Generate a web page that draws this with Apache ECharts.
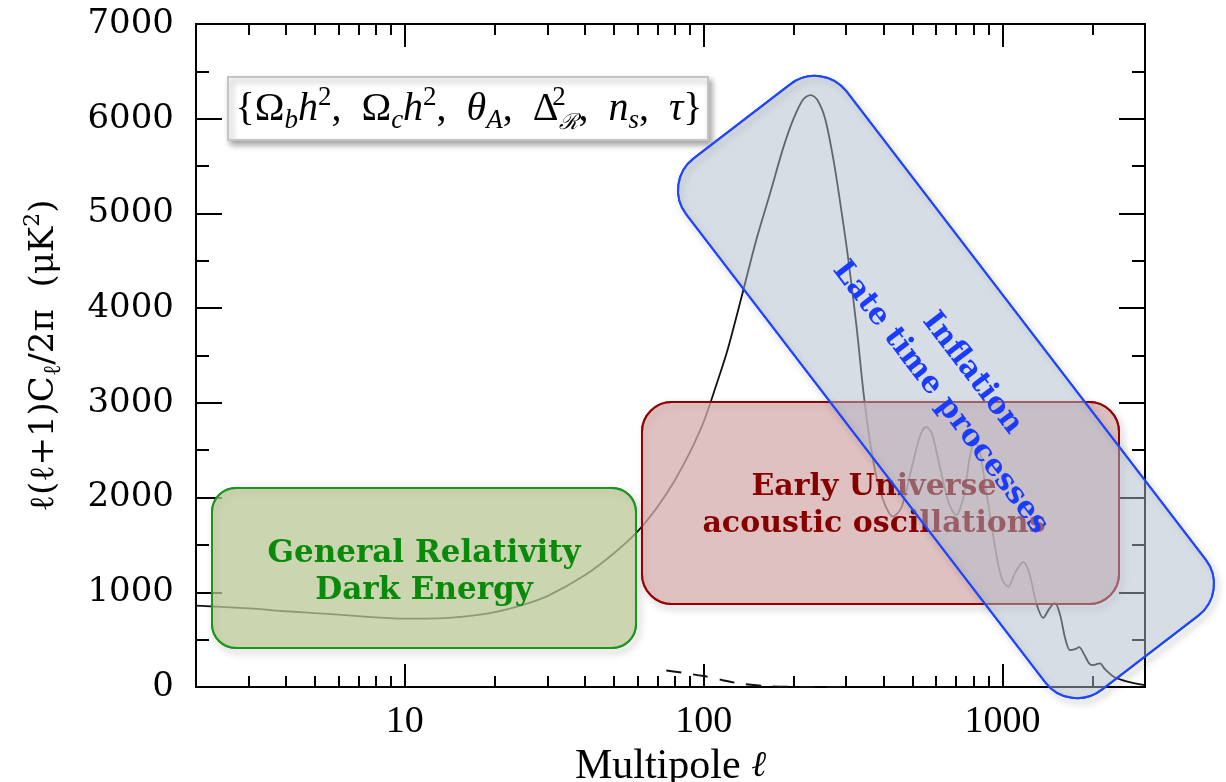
<!DOCTYPE html>
<html>
<head>
<meta charset="utf-8">
<script src="https://cdn.jsdelivr.net/npm/echarts@6.0.0/dist/echarts.min.js"></script>
<style>
  html, body { margin: 0; padding: 0; background: #fff; }
  #main { width: 1226px; height: 782px; }
</style>
</head>
<body>
<div id="main"></div>
<script>
// TT power spectrum: multipole l and l(l+1)C_l/2pi in uK^2
var ttEll = [2, 3, 4, 5, 6, 8, 10, 13, 16, 20, 25, 30, 40, 50, 60, 70, 80, 90, 100, 110, 120, 135, 150, 167, 185, 200, 215, 228, 240, 255, 272, 290, 305, 325, 343, 360, 380, 405, 430, 460, 500, 530, 555, 580, 620, 660, 700, 740, 780, 810, 840, 900, 960, 1000, 1047, 1100, 1175, 1230, 1300, 1370, 1430, 1497, 1560, 1620, 1682, 1750, 1805, 1880, 1950, 2010, 2060, 2123, 2200, 2366, 2600, 3000];
var ttVal = [860, 830, 800, 780, 765, 735, 722, 725, 745, 790, 870, 960, 1180, 1410, 1640, 1900, 2180, 2480, 2800, 3180, 3550, 4160, 4720, 5216, 5700, 6000, 6200, 6250, 6200, 6000, 5565, 5000, 4510, 3800, 3100, 2600, 2200, 1920, 1800, 1900, 2350, 2650, 2745, 2680, 2300, 1950, 1816, 2000, 2450, 2600, 2480, 1900, 1350, 1130, 1056, 1200, 1320, 1200, 880, 730, 820, 890, 760, 520, 390, 400, 420, 340, 250, 230, 240, 250, 190, 105, 60, 20];

// dashed low curve
var lowEll = [75, 85, 100, 115, 130, 160, 200, 250, 300];
var lowVal = [175, 150, 115, 75, 40, 10, 2, 0, 0];

// axis ticks and labels
var xLabels = [10, 100, 1000];
var xMinor = [3, 4, 5, 6, 7, 8, 9, 20, 30, 40, 50, 60, 70, 80, 90, 200, 300, 400, 500, 600, 700, 800, 900, 2000, 3000];

var chart = echarts.init(document.getElementById('main'));

function pairs(xs, ys) {
  return xs.map(function (x, i) { return [x, ys[i]]; });
}

var black = '#000';
var serifNum = 'DejaVu Serif';

function plain(v) { return String(v); }

function xAxisOf(pos, major, withLabels) {
  return {
    type: 'log',
    logBase: 10,
    min: 2,
    max: 3000,
    position: pos,
    axisLine: { show: true, onZero: false, lineStyle: { color: black, width: 2 } },
    axisTick: {
      inside: true,
      length: major ? 23 : 11,
      customValues: major ? xLabels : xMinor,
      lineStyle: { color: black, width: 2 }
    },
    axisLabel: withLabels ? {
      customValues: xLabels,
      formatter: plain,
      fontFamily: 'Liberation Serif',
      fontSize: 38,
      color: black,
      margin: 16
    } : { show: false },
    splitLine: { show: false }
  };
}

function yAxisOf(pos, withLabels) {
  return {
    type: 'value',
    min: 0,
    max: 7000,
    interval: 1000,
    position: pos,
    axisLine: { show: true, onZero: false, lineStyle: { color: black, width: 2 } },
    axisTick: { inside: true, length: 26, lineStyle: { color: black, width: 2 } },
    minorTick: { show: true, splitNumber: 2, length: 13, lineStyle: { color: black, width: 2 } },
    axisLabel: withLabels ? {
      formatter: plain,
      fontFamily: serifNum,
      fontSize: 34,
      color: black,
      margin: 22
    } : { show: false },
    splitLine: { show: false }
  };
}

var bottomAxis = xAxisOf('bottom', true, true);
bottomAxis.name = '{a|Multipole }{b|ℓ}';
bottomAxis.nameLocation = 'middle';
bottomAxis.nameGap = 49;
bottomAxis.nameTextStyle = {
  rich: {
    a: { fontFamily: 'Liberation Serif', fontSize: 42, color: black, lineHeight: 44 },
    b: { fontFamily: 'DejaVu Serif', fontStyle: 'italic', fontSize: 36, color: black, lineHeight: 44 }
  }
};

var leftAxis = yAxisOf('left', true);
leftAxis.name = '{a|ℓ(ℓ+1)C}{s|ℓ}{a|/2π  (μK}{p|2}{a|)}';
leftAxis.nameLocation = 'middle';
leftAxis.nameGap = 130;
leftAxis.nameTextStyle = {
  rich: {
    a: { fontFamily: serifNum, fontSize: 34, color: black, lineHeight: 44 },
    s: { fontFamily: serifNum, fontSize: 24, color: black, lineHeight: 30, verticalAlign: 'bottom' },
    p: { fontFamily: serifNum, fontSize: 22, color: black, lineHeight: 32, verticalAlign: 'top' }
  }
};

// formula box text, LaTeX-like
var mathFont = 'Liberation Serif';
var formula = '{m|{Ω}{si|b}{mi|h}{sp|2}{m|,  Ω}{si|c}{mi|h}{sp|2}{m|,  }{mi|θ}{si|A}{m|,  Δ}{sp0|2}{sr|ℛ}{m|,  }{mi|n}{si|s}{m|,  }{mi|τ}}';

// translucent rounded box: shadow drawn by an unfilled outline below the fill
function box(x, y, w, h, r, fill, stroke, z) {
  return [
    {
      type: 'rect', z: z,
      shape: { x: x, y: y, width: w, height: h, r: r },
      style: {
        fill: null, stroke: stroke, lineWidth: 2,
        shadowBlur: 7, shadowOffsetX: 3, shadowOffsetY: 4, shadowColor: 'rgba(0,0,0,0.35)'
      }
    },
    {
      type: 'rect', z: z,
      shape: { x: x, y: y, width: w, height: h, r: r },
      style: { fill: fill, stroke: stroke, lineWidth: 2 }
    }
  ];
}

var blueBox = box(-335, -101, 670, 202, 40, 'rgba(173,187,203,0.5)', '#1f45ff', 26);

var option = {
  animation: false,
  backgroundColor: '#fff',
  grid: { left: 196, right: 81, top: 24, bottom: 95, outerBoundsMode: 'none', containLabel: false },
  xAxis: [
    bottomAxis,
    xAxisOf('bottom', false, false),
    xAxisOf('top', true, false),
    xAxisOf('top', false, false)
  ],
  yAxis: [leftAxis, yAxisOf('right', false)],
  series: [
    {
      name: 'TT',
      type: 'line',
      data: pairs(ttEll, ttVal),
      showSymbol: false,
      smooth: 0.3,
      lineStyle: { color: '#111', width: 1.8 },
      z: 3
    },
    {
      name: 'low',
      type: 'line',
      data: pairs(lowEll, lowVal),
      showSymbol: false,
      smooth: 0.3,
      lineStyle: { color: '#111', width: 2, type: [15, 12] },
      z: 3
    }
  ],
  graphic: [
    // parameter box
    {
      type: 'rect', z: 20,
      shape: { x: 228, y: 77, width: 480, height: 63 },
      style: {
        fill: '#fff', stroke: '#c4c4c4', lineWidth: 2,
        shadowBlur: 6, shadowOffsetX: 3, shadowOffsetY: 4, shadowColor: 'rgba(0,0,0,0.35)'
      }
    },
    {
      type: 'text', z: 21, x: 469, y: 109,
      style: {
        text: formula,
        fontFamily: mathFont, fontSize: 40, fill: black,
        align: 'center', verticalAlign: 'middle',
        rich: {
          m: { fontFamily: mathFont, fontSize: 40, lineHeight: 50 },
          mi: { fontFamily: mathFont, fontStyle: 'italic', fontSize: 40, lineHeight: 50 },
          si: { fontFamily: mathFont, fontStyle: 'italic', fontSize: 27, lineHeight: 27, verticalAlign: 'bottom' },
          sr: { fontFamily: 'DejaVu Serif', fontStyle: 'italic', fontSize: 22, lineHeight: 27, verticalAlign: 'bottom' },
          sp: { fontFamily: mathFont, fontSize: 27, lineHeight: 27, verticalAlign: 'top' },
          sp0: { fontFamily: mathFont, fontSize: 27, lineHeight: 27, verticalAlign: 'top', width: 1 }
        }
      }
    }
  ]
    // General Relativity box
    .concat(box(212, 488, 424, 160, 24, 'rgba(185,199,149,0.75)', '#1a961a', 22))
    .concat([{
      type: 'text', z: 23, x: 424, y: 572,
      style: {
        text: 'General Relativity\nDark Energy',
        fontFamily: 'DejaVu Serif', fontWeight: 'bold', fontSize: 31, lineHeight: 37,
        fill: '#0a8a0a', align: 'center', verticalAlign: 'middle'
      }
    }])
    // Early Universe box
    .concat(box(642, 402, 477, 202, 30, 'rgba(213,172,172,0.75)', '#960000', 24))
    .concat([{
      type: 'text', z: 25, x: 874, y: 506,
      style: {
        text: 'Early Universe\nacoustic oscillations',
        fontFamily: 'DejaVu Serif', fontWeight: 'bold', fontSize: 30, lineHeight: 37,
        fill: '#870000', align: 'center', verticalAlign: 'middle'
      }
    }])
    // Inflation box, rotated
    .concat([{
      type: 'group', z: 26, x: 946, y: 387, rotation: -52.5 * Math.PI / 180,
      children: blueBox.concat([{
        type: 'text', z: 27, x: 5, y: -9,
        style: {
          text: 'Inflation\nLate time processes',
          fontFamily: 'DejaVu Serif', fontWeight: 'bold', fontSize: 30, lineHeight: 40,
          fill: '#1a3cff', align: 'center', verticalAlign: 'middle'
        }
      }])
    }])
};

chart.setOption(option);
</script>
</body>
</html>
